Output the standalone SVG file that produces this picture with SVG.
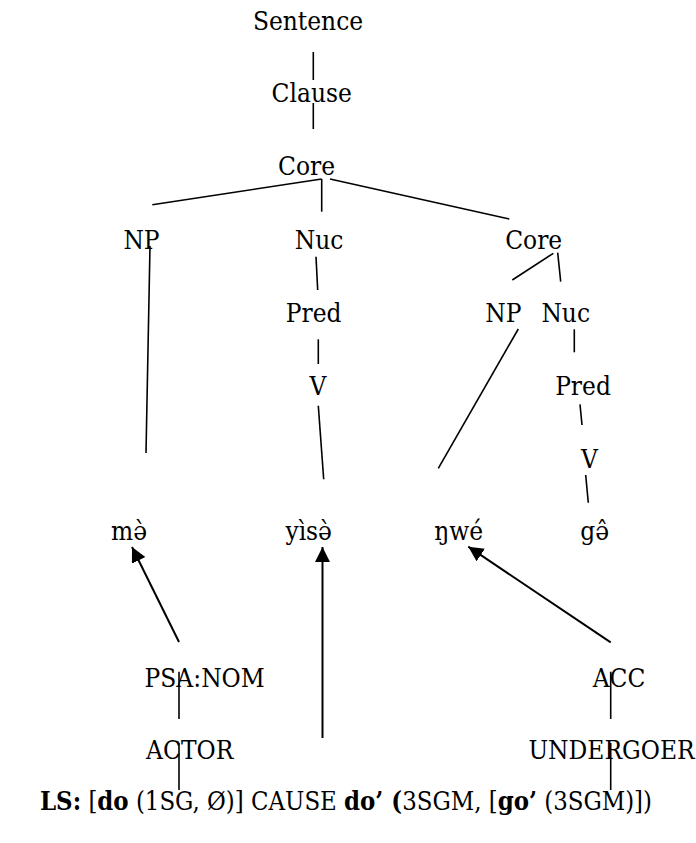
<svg xmlns="http://www.w3.org/2000/svg" width="696" height="843" viewBox="0 0 696 843">
  <style>
    text { font-family: "DejaVu Serif Condensed", "DejaVu Serif", serif; font-stretch: condensed; font-size: 26px; fill: #000; }
    .c { text-anchor: middle; }
    .b { font-weight: bold; }
    .edge { stroke: #000; stroke-width: 1.6; fill: none; stroke-linecap: butt; }
    .link { stroke: #000; stroke-width: 2; fill: none; }
  </style>
  <defs>
    <marker id="head" markerUnits="userSpaceOnUse" markerWidth="16" markerHeight="16" refX="15" refY="7.5" orient="auto">
      <path d="M0,0 L15,7.5 L0,15 z" fill="#000"/>
    </marker>
  </defs>
  <rect width="696" height="843" fill="#fff"/>

  <!-- tree edges and linking arrows -->
  <g id="edges">
    <line class="edge" x1="313.3" y1="52" x2="313.3" y2="80"/>
    <line class="edge" x1="313.3" y1="103" x2="313.3" y2="129"/>
    <line class="edge" x1="321.7" y1="179" x2="152.3" y2="204.7"/>
    <line class="edge" x1="321.7" y1="179" x2="321.7" y2="211.7"/>
    <line class="edge" x1="330" y1="179" x2="509.3" y2="219"/>
    <line class="edge" x1="150" y1="246" x2="146" y2="453"/>
    <line class="edge" x1="316" y1="256.7" x2="317.7" y2="290"/>
    <line class="edge" x1="318.3" y1="339.3" x2="318.3" y2="364"/>
    <line class="edge" x1="318.3" y1="405.7" x2="323.7" y2="479.3"/>
    <line class="edge" x1="553.3" y1="253.3" x2="512.3" y2="280"/>
    <line class="edge" x1="557.7" y1="252.7" x2="560.7" y2="281.7"/>
    <line class="edge" x1="518.3" y1="329" x2="438.3" y2="468.3"/>
    <line class="edge" x1="574.3" y1="329.3" x2="574.3" y2="352.3"/>
    <line class="edge" x1="580" y1="404.3" x2="582" y2="425"/>
    <line class="edge" x1="585.7" y1="475" x2="588.3" y2="502.7"/>
    <line class="edge" x1="179" y1="671.7" x2="179" y2="719"/>
    <line class="edge" x1="179" y1="743" x2="179" y2="790"/>
    <line class="edge" x1="610.7" y1="671.7" x2="610.7" y2="719"/>
    <line class="edge" x1="610.7" y1="743" x2="610.7" y2="790"/>
    <line class="link" x1="179" y1="642" x2="132" y2="547" marker-end="url(#head)"/>
    <line class="link" x1="322.5" y1="738" x2="322.5" y2="547" marker-end="url(#head)"/>
    <line class="link" x1="610.7" y1="642.3" x2="468.3" y2="546.7" marker-end="url(#head)"/>
  </g>

  <!-- syntactic nodes -->
  <g id="sentence"><text class="c" x="308" y="30">Sentence</text></g>
  <g id="clause"><text class="c" x="311.7" y="102">Clause</text></g>
  <g id="core"><text class="c" x="306.5" y="175">Core</text></g>
  <g id="np1"><text class="c" x="141.5" y="249">NP</text></g>
  <g id="nuc1"><text class="c" x="319" y="249">Nuc</text></g>
  <g id="core2"><text class="c" x="533.7" y="249">Core</text></g>
  <g id="pred1"><text class="c" x="313.7" y="322">Pred</text></g>
  <g id="v1"><text class="c" x="318" y="395">V</text></g>
  <g id="np2"><text class="c" x="503.3" y="322">NP</text></g>
  <g id="nuc2"><text class="c" x="565.7" y="322">Nuc</text></g>
  <g id="pred2"><text class="c" x="583" y="395">Pred</text></g>
  <g id="v2"><text class="c" x="589.5" y="468">V</text></g>

  <!-- words -->
  <g id="w-me"><text class="c" x="129" y="540">mə̀</text></g>
  <g id="w-yise"><text class="c" x="308.7" y="540">yìsə̀</text></g>
  <g id="w-nwe"><text class="c" x="458.7" y="540">ŋwé</text></g>
  <g id="w-ge"><text class="c" x="594.7" y="540">gə̂</text></g>

  <!-- semantic roles -->
  <g id="psa"><text class="c" x="204.7" y="687">PSA:NOM</text></g>
  <g id="acc"><text class="c" x="619" y="687">ACC</text></g>
  <g id="actor"><text class="c" x="189.7" y="759">ACTOR</text></g>
  <g id="undergoer"><text class="c" x="611.5" y="759">UNDERGOER</text></g>

  <!-- logical structure -->
  <g id="ls">
    <text x="40" y="810" textLength="612" lengthAdjust="spacingAndGlyphs"><tspan class="b">LS:</tspan> [<tspan class="b">do</tspan> (1SG, Ø)] CAUSE <tspan class="b">do’ (</tspan>3SGM, [<tspan class="b">go’</tspan> (3SGM)])</text>
  </g>
</svg>
